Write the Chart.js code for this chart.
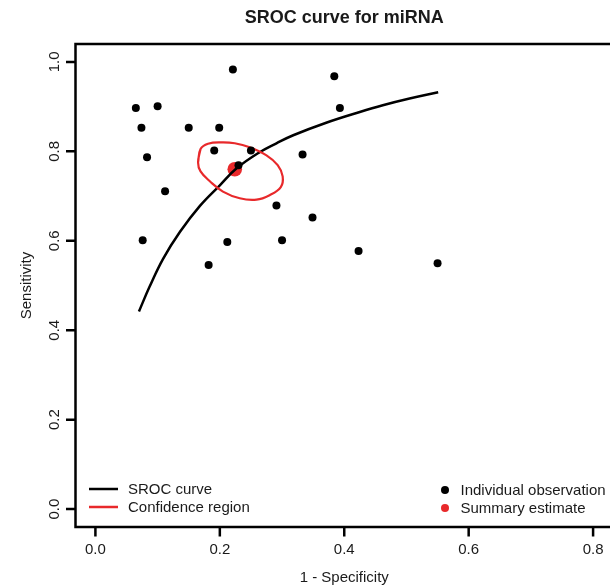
<!DOCTYPE html>
<html>
<head>
<meta charset="utf-8">
<title>SROC curve for miRNA</title>
<script src="https://cdn.jsdelivr.net/npm/chart.js@4.4.1/dist/chart.umd.min.js"></script>
<style>
  html, body { margin: 0; padding: 0; overflow: hidden; background: #fff; }
  #wrap { width: 614px; height: 585px; }
</style>
</head>
<body>
<div id="wrap"><canvas id="srocChart" width="614" height="585"></canvas></div>
<script>
// ===== DATA =====
// individual studies: 1 - specificity / sensitivity
const obsFpr  = [0.221, 0.384, 0.065, 0.100, 0.393, 0.074, 0.150, 0.199,
                 0.191, 0.250, 0.333, 0.083, 0.230, 0.112, 0.291, 0.349,
                 0.076, 0.212, 0.300, 0.182, 0.423, 0.550];
const obsSens = [0.983, 0.968, 0.897, 0.901, 0.897, 0.853, 0.853, 0.853,
                 0.802, 0.802, 0.793, 0.787, 0.769, 0.711, 0.679, 0.652,
                 0.601, 0.597, 0.601, 0.546, 0.577, 0.550];

// summary estimate
const summaryFpr  = [0.224];
const summarySens = [0.760];

// SROC curve
const srocFpr  = [0.070, 0.087, 0.109, 0.136, 0.168, 0.200, 0.227, 0.264,
                  0.291, 0.318, 0.371, 0.425, 0.462, 0.505, 0.551];
const srocSens = [0.442, 0.497, 0.560, 0.620, 0.678, 0.724, 0.762, 0.798,
                  0.818, 0.836, 0.864, 0.888, 0.903, 0.918, 0.932];

// confidence region outline (closed)
const regionFpr  = [0.165, 0.169, 0.181, 0.203, 0.224, 0.248, 0.275, 0.293,
                    0.301, 0.298, 0.280, 0.259, 0.232, 0.205, 0.184, 0.169,
                    0.165, 0.169];
const regionSens = [0.775, 0.805, 0.817, 0.820, 0.818, 0.809, 0.791, 0.769,
                    0.744, 0.720, 0.702, 0.692, 0.695, 0.710, 0.733, 0.755,
                    0.775, 0.805];

const xTicks = [0.0, 0.2, 0.4, 0.6, 0.8];
const yTicks = [0.0, 0.2, 0.4, 0.6, 0.8, 1.0];

const RED = "#e8292b";
const FONT = '"Liberation Sans", Arial, Helvetica, sans-serif';

const toPoints = (xs, ys) => xs.map((v, i) => ({ x: v, y: ys[i] }));

/* =========================
   R-STYLE BOX, AXES, TITLES, LEGEND
========================= */
const rStyleFrame = {
  id: "rStyleFrame",
  afterDraw(chart) {
    const { ctx, chartArea: a, scales: { x, y } } = chart;
    ctx.save();

    // box + ticks
    ctx.strokeStyle = "#000";
    ctx.lineWidth = 2.5;
    ctx.strokeRect(a.left, a.top, a.right - a.left, a.bottom - a.top);
    ctx.beginPath();
    xTicks.forEach(v => {
      const px = x.getPixelForValue(v);
      ctx.moveTo(px, a.bottom);
      ctx.lineTo(px, a.bottom + 9.5);
    });
    yTicks.forEach(v => {
      const py = y.getPixelForValue(v);
      ctx.moveTo(a.left, py);
      ctx.lineTo(a.left - 9.5, py);
    });
    ctx.stroke();

    // tick labels
    ctx.fillStyle = "#1a1a1a";
    ctx.font = "15px " + FONT;
    ctx.textAlign = "center";
    ctx.textBaseline = "alphabetic";
    xTicks.forEach(v => ctx.fillText(v.toFixed(1), x.getPixelForValue(v), 554));
    yTicks.forEach(v => {
      ctx.save();
      ctx.translate(58.5, y.getPixelForValue(v));
      ctx.rotate(-Math.PI / 2);
      ctx.fillText(v.toFixed(1), 0, 0);
      ctx.restore();
    });

    // axis titles
    const midX = (a.left + a.right) / 2;
    const midY = (a.top + a.bottom) / 2;
    ctx.fillText("1 - Specificity", midX, 582);
    ctx.save();
    ctx.translate(31, midY);
    ctx.rotate(-Math.PI / 2);
    ctx.fillText("Sensitivity", 0, 0);
    ctx.restore();

    // main title
    ctx.font = "bold 18px " + FONT;
    ctx.fillText("SROC curve for miRNA", midX, 22.5);

    // legend (left: lines, right: points)
    ctx.font = "15px " + FONT;
    ctx.textAlign = "left";
    ctx.textBaseline = "middle";
    ctx.lineWidth = 2.5;
    [["SROC curve", "#000", 489], ["Confidence region", RED, 507]].forEach(([txt, col, ly]) => {
      ctx.strokeStyle = col;
      ctx.beginPath();
      ctx.moveTo(89, ly);
      ctx.lineTo(118, ly);
      ctx.stroke();
      ctx.fillStyle = "#1a1a1a";
      ctx.fillText(txt, 128, ly + 1);
    });
    [["Individual observation", "#000", 490], ["Summary estimate", RED, 508]].forEach(([txt, col, ly]) => {
      ctx.fillStyle = col;
      ctx.beginPath();
      ctx.arc(445, ly, 4, 0, Math.PI * 2);
      ctx.fill();
      ctx.fillStyle = "#1a1a1a";
      ctx.fillText(txt, 460.5, ly + 1);
    });

    ctx.restore();
  }
};

/* =========================
   CHART
========================= */
new Chart(document.getElementById("srocChart"), {
  type: "scatter",
  data: {
    datasets: [
      {
        label: "Individual observation",
        data: toPoints(obsFpr, obsSens),
        backgroundColor: "#000",
        borderWidth: 0,
        pointRadius: 4
      },
      {
        label: "Confidence region",
        data: toPoints(regionFpr, regionSens),
        showLine: true,
        borderColor: RED,
        borderWidth: 2.2,
        pointRadius: 0,
        tension: 0.4
      },
      {
        label: "SROC curve",
        data: toPoints(srocFpr, srocSens),
        showLine: true,
        borderColor: "#000",
        borderWidth: 2.5,
        pointRadius: 0,
        tension: 0.4
      },
      {
        label: "Summary estimate",
        data: toPoints(summaryFpr, summarySens),
        backgroundColor: RED,
        borderWidth: 0,
        pointRadius: 7.3
      }
    ]
  },
  options: {
    responsive: false,
    animation: false,
    events: [],
    layout: {
      autoPadding: false,
      padding: { left: 75.5, right: 1, top: 44, bottom: 58 }
    },
    scales: {
      x: { type: "linear", min: -0.032, max: 0.832, display: false },
      y: { type: "linear", min: -0.04, max: 1.04, display: false }
    },
    plugins: {
      legend: { display: false },
      title: { display: false },
      tooltip: { enabled: false }
    }
  },
  plugins: [rStyleFrame]
});
</script>
</body>
</html>
